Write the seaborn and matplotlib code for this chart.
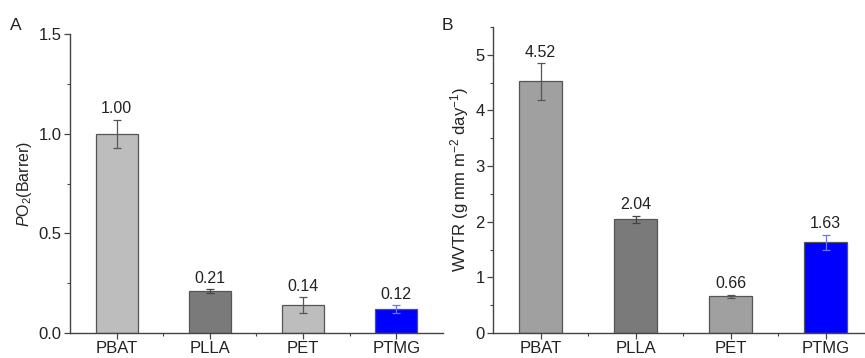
import numpy as np
import pandas as pd
import seaborn as sns
import matplotlib.pyplot as plt
from matplotlib.ticker import MultipleLocator, FixedLocator

# data
materials = ['PBAT', 'PLLA', 'PET', 'PTMG']
po2 = [1.00, 0.21, 0.14, 0.12]
po2_err = [0.07, 0.01, 0.04, 0.02]
wvtr = [4.52, 2.04, 0.66, 1.63]
wvtr_err = [0.33, 0.07, 0.03, 0.14]

colors_a = ['#bdbdbd', '#7a7a7a', '#bdbdbd', '#0000ff']
colors_b = ['#a0a0a0', '#7a7a7a', '#a0a0a0', '#0000ff']
err_colors = ['#555555', '#444444', '#555555', '#6f6fff']

sns.set_style('ticks')
plt.rcParams['font.family'] = ['Liberation Sans', 'DejaVu Sans']
plt.rcParams['mathtext.fontset'] = 'custom'
plt.rcParams['mathtext.rm'] = 'Liberation Sans'
plt.rcParams['mathtext.it'] = 'Liberation Sans:italic'

fig = plt.figure(figsize=(8.65, 3.58), dpi=100)
ax_a = fig.add_axes([0.0809, 0.0698, 0.4312, 0.835])
ax_b = fig.add_axes([0.570, 0.0698, 0.4393, 0.855])


def draw_panel(ax, vals, errs, colors, ymax, major, minor, ylabel, lab_size):
    df = pd.DataFrame({'Material': materials, 'Value': vals})
    sns.barplot(data=df, x='Material', y='Value', hue='Material',
                palette=colors, saturation=1, width=0.45,
                edgecolor='#555555', linewidth=0.9, legend=False, ax=ax)
    for i, p in enumerate(ax.patches):
        cx = p.get_x() + p.get_width() / 2
        ax.errorbar(cx, vals[i], yerr=errs[i], color=err_colors[i],
                    capsize=3, elinewidth=0.9, capthick=0.9, zorder=3)
        ax.annotate('{:.2f}'.format(vals[i]), (cx, vals[i] + errs[i]),
                    xytext=(0, 2.5), textcoords='offset points',
                    ha='center', va='bottom', fontsize=11.5, color='#222222')
    ax.set_xlim(-0.5, 3.5)
    ax.set_ylim(0, ymax)
    ax.yaxis.set_major_locator(MultipleLocator(major))
    ax.yaxis.set_minor_locator(MultipleLocator(minor))
    ax.xaxis.set_minor_locator(FixedLocator([0.5, 1.5, 2.5]))
    ax.set_xlabel('')
    ax.set_ylabel(ylabel, fontsize=lab_size, color='#222222', labelpad=3)
    for s in ['top', 'right']:
        ax.spines[s].set_visible(False)
    for s in ['left', 'bottom']:
        ax.spines[s].set_color('#444444')
        ax.spines[s].set_linewidth(1.0)
    ax.tick_params(axis='both', which='major', length=4, width=0.9,
                   color='#444444', labelsize=12, labelcolor='#222222',
                   direction='out', pad=2)
    ax.tick_params(axis='both', which='minor', length=2, width=0.8,
                   color='#444444', direction='out')


draw_panel(ax_a, po2, po2_err, colors_a, 1.5, 0.5, 0.25,
           r'$P$O$_2$(Barrer)', 11.5)
draw_panel(ax_b, wvtr, wvtr_err, colors_b, 5.5, 1, 0.5,
           r'WVTR (g mm m$^{-2}$ day$^{-1}$)', 12)

fig.text(0.012, 0.915, 'A', fontsize=12.5, color='#222222')
fig.text(0.510, 0.915, 'B', fontsize=12.5, color='#222222')

fig.savefig('out.png', dpi=100)
